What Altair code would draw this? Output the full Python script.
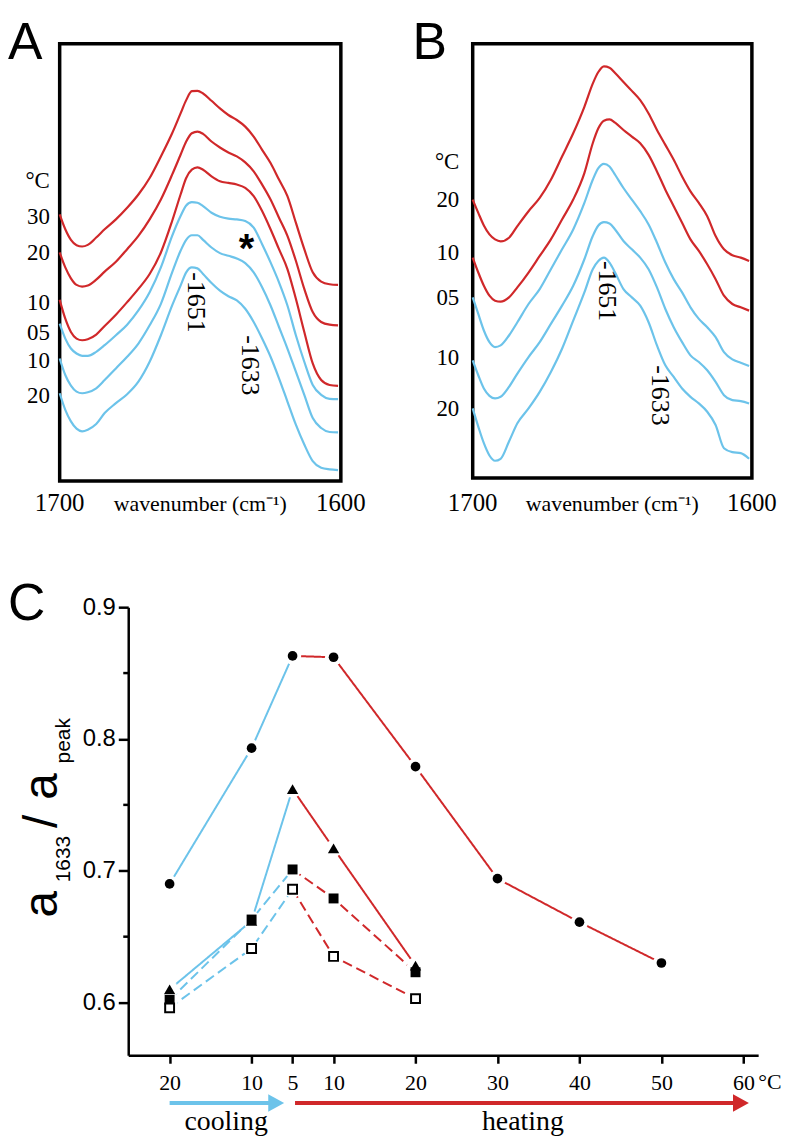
import altair as alt
import pandas as pd

RED = "#D0282A"
BLUE = "#6CC3EA"
SERIF = "Liberation Serif"
SANS = "Liberation Sans"
NARROW = "Liberation Sans Narrow, Arial Narrow, Liberation Sans"

# ---------------- spectra (panels A and B) ----------------
wavenumbers = [1700, 1698, 1696, 1694, 1692, 1690, 1687, 1684, 1680, 1676, 1672, 1668,
               1664, 1660, 1657, 1655, 1653, 1651, 1649, 1646, 1643, 1640, 1637, 1634,
               1631, 1628, 1625, 1622, 1619, 1616, 1613, 1610, 1607, 1604, 1601]

A_heat_30 = [80.5, 76, 72.8, 71.2, 70.8, 71.3, 73.5, 76, 79, 82.5, 86.5, 91.5, 98, 105, 111, 115,
             117.7, 117.8, 117, 114.8, 112.5, 110.5, 109, 107, 104, 100, 96, 91, 86, 78, 70, 63,
             60.2, 59.4, 59.2]
A_heat_20 = [69, 64.5, 61.2, 59.2, 58.7, 59, 60.8, 63.2, 66.2, 70, 74, 79, 85, 92.5, 98.5, 102.5,
             105, 105.5, 104.8, 102.5, 100.7, 99.2, 98, 96.2, 93.5, 89.5, 85, 79.5, 74, 66.5, 58,
             51, 48, 47.2, 47]
A_heat_10 = [54.7, 49, 45, 43, 42.5, 42.8, 44.2, 46.8, 50.2, 54, 58, 62.5, 69, 78.5, 86.5, 91.5,
             94, 94.7, 94, 92, 90.5, 90, 89.5, 88.5, 86, 81.5, 76, 70, 64, 55, 45, 35.5, 30.5,
             29, 28.7]
A_cool_05 = [47.5, 43, 40, 38.5, 37.8, 37.8, 39, 41, 44, 47.2, 51.5, 57, 64.5, 74, 80, 83.2,
             84.2, 84, 83, 81, 79.8, 79.2, 79, 78.5, 76.5, 71.5, 66, 60, 53, 44, 36, 29, 26,
             24.8, 24.7]
A_cool_10 = [37, 32, 28.8, 27, 26.5, 26.8, 28, 30.5, 34, 37.5, 41.5, 47, 53.5, 63, 69.5, 72.8,
             74.2, 74.2, 72.8, 70.5, 68.8, 68, 67.2, 65.8, 63, 58.5, 53, 46.5, 40, 33, 26, 19,
             16, 14.8, 14.7]
A_cool_20 = [26.5, 21.5, 18, 15.8, 15, 15.5, 17.2, 20.5, 23.5, 26.2, 30, 36, 44, 53, 59, 63,
             64.5, 64.2, 62.5, 59.8, 57.5, 55.8, 54.5, 52, 48, 43, 37.5, 31, 24, 17, 11, 6, 4,
             3.5, 3.3]

B_heat_20 = [84, 80, 76.2, 73.5, 72, 71.4, 72.5, 76, 80.5, 84.5, 90, 97, 104, 112, 119, 122.5,
             124.2, 123.8, 122.2, 119.5, 116.8, 114, 110, 105, 100.5, 96, 91, 86.5, 83, 79, 73,
             69, 67.2, 66.5, 65.5]
B_heat_10 = [66.5, 62, 58, 55, 53.5, 53.2, 54.5, 57.5, 62, 67, 72, 78, 84, 92, 101, 105.5,
             107.8, 108.2, 107.2, 105, 103, 101, 97.5, 92.5, 87, 82, 77, 72, 68.5, 64.5, 60, 55,
             52.5, 51.5, 50.5]
B_cool_05 = [54.5, 49.5, 44.5, 41, 39.5, 40, 43, 47, 52.5, 57, 63, 69, 75, 83, 90, 93.5, 94.8,
             94, 91.5, 87.5, 84, 80.5, 76.5, 71, 65, 60, 56, 51.5, 48, 45.5, 42.5, 38, 35.8,
             34.8, 33.8]
B_cool_10 = [35.5, 31, 27, 24.8, 24, 24.5, 27.5, 31.5, 36.5, 41, 46.5, 52, 58, 66, 73, 76.2,
             77.2, 76.8, 75, 71.5, 69, 66.5, 63, 57.5, 51, 45.5, 41, 37, 35, 32.5, 29, 25, 23.5,
             23.2, 22.5]
B_cool_20 = [21, 15.5, 10.5, 6.8, 5.2, 5.8, 11, 16.5, 21, 26, 32, 39, 47.5, 56, 63, 65.5, 66.5,
             65, 62, 57, 54.5, 52, 47, 40, 34, 30.5, 27, 24.5, 22.5, 20, 16, 9, 7.8, 7.5, 5.8]

spec_tick_wn = [1700, 1600]
spec_tick_text = ["1700", "1600"]
spec_title = "wavenumber (cm⁻¹)"

A_temp_text = ["°C", "30", "20", "10", "05", "10", "20"]
A_temp_au = [90.5, 79.8, 68.8, 53.8, 44.8, 36.3, 25.8]
B_temp_text = ["°C", "20", "10", "05", "10", "20"]
B_temp_au = [95.2, 84, 68, 54.2, 36.2, 20.8]

A_peak_text = ["-1651", "-1633"]
A_peak_wn = [1651.5, 1632.2]
A_peak_au = [63, 44]
B_peak_text = ["-1651", "-1633"]
B_peak_wn = [1652, 1633]
B_peak_au = [65.5, 34]

A_star_wn = [1633.6]
A_star_au = [66]

# ---------------- panel C ----------------
steps = [0, 1, 1.5, 2, 3, 4, 5, 6]
circle_vals = [0.690, 0.793, 0.863, 0.862, 0.779, 0.694, 0.661, 0.630]
triangle_vals = [0.610, 0.662, 0.762, 0.717, 0.628]
fsquare_vals = [0.602, 0.663, 0.701, 0.679, 0.623]
osquare_vals = [0.596, 0.641, 0.686, 0.635, 0.603]

tick_pos = [0, 1, 1.5, 2, 3, 4, 5, 6, 7]
tick_text = ["20", "10", "5", "10", "20", "30", "40", "50", "60"]
y_ticks = [0.6, 0.7, 0.8, 0.9]
minor_ticks = [0.65, 0.75, 0.85]

arrow_phase = ["cooling", "heating"]
arrow_start = [0, 1.53]
arrow_tip = [1.40, 7.07]
arrow_text_pos = [0.69, 4.31]

# ---------------- layout (pixels, relative to panel A's top-left) ----------------
W, H = 703, 1018
LETTER_Y = 15
PHASE_COLOR = alt.Scale(domain=["cooling", "heating"], range=[BLUE, RED])


def label(text, x, y, size, font=SERIF, angle=0, align="left", baseline="alphabetic",
          weight="normal"):
    return alt.Chart(pd.DataFrame({"t": [text]})).mark_text(
        font=font, fontSize=size, angle=angle, align=align, baseline=baseline,
        fontWeight=weight, color="black"
    ).encode(text="t:N", x=alt.value(x), y=alt.value(y))


def frame(x0, x1, y0, y1):
    return alt.Chart(pd.DataFrame({"f": [0]})).mark_rect(
        filled=False, stroke="black", strokeWidth=3.5
    ).encode(x=alt.value(x0), x2=alt.value(x1), y=alt.value(y0), y2=alt.value(y1))


def spectra(curves, xs, ys, fr, temp_text, temp_au, temp_wn, peak_text, peak_wn, peak_au,
            letter, letter_x, star=None):
    rows = []
    for name, phase, vals in curves:
        for w, v in zip(wavenumbers, vals):
            rows.append({"curve": name, "phase": phase, "wn": w, "au": v})
    df = pd.DataFrame(rows)
    X = alt.X("wn:Q", scale=xs, axis=None)
    Y = alt.Y("au:Q", scale=ys, axis=None)
    lines = alt.Chart(df).mark_line(strokeWidth=2.2, interpolate="monotone").encode(
        x=X, y=Y, color=alt.Color("phase:N", scale=PHASE_COLOR, legend=None),
        detail="curve:N")
    tdf = pd.DataFrame({"t": temp_text, "au": temp_au, "wn": [temp_wn] * len(temp_text)})
    temps = alt.Chart(tdf).mark_text(font=SERIF, fontSize=23, align="right",
                                     baseline="middle", color="black").encode(
        x=X, y=Y, text="t:N")
    pdf = pd.DataFrame({"t": peak_text, "wn": peak_wn, "au": peak_au})
    peaks = alt.Chart(pdf).mark_text(font=SERIF, fontSize=26, angle=90, align="left",
                                     baseline="middle", color="black").encode(
        x=X, y=Y, text="t:N")
    ticks = alt.Chart(pd.DataFrame({"t": spec_tick_text, "wn": spec_tick_wn})).mark_text(
        font=SERIF, fontSize=25, align="center", baseline="alphabetic", color="black").encode(
        x=X, y=alt.value(470), text="t:N")
    title = alt.Chart(pd.DataFrame({"t": [spec_title], "wn": [sum(spec_tick_wn) / 2]})).mark_text(
        font=SERIF, fontSize=22, align="center", baseline="alphabetic", color="black").encode(
        x=X, y=alt.value(470), text="t:N")
    layers = [frame(*fr), lines, temps, peaks, ticks, title]
    if star is not None:
        sdf = pd.DataFrame({"t": ["*"], "wn": star[0], "au": star[1]})
        layers.append(alt.Chart(sdf).mark_text(font=SANS, fontSize=40, fontWeight="bold",
                                               align="center", baseline="alphabetic",
                                               color="black").encode(x=X, y=Y, text="t:N"))
    layers.append(label(letter, letter_x, LETTER_Y, 52, font=SANS))
    return alt.layer(*layers)


xsA = alt.Scale(domain=[1700, 1600], range=[0, 283], nice=False, zero=False)
ysA = alt.Scale(domain=[0, 132], range=[440, 0], nice=False, zero=False)
xsB = alt.Scale(domain=[1700, 1600], range=[415.7, 696.7], nice=False, zero=False)
ysB = alt.Scale(domain=[0, 131], range=[437, 0], nice=False, zero=False)

panel_A = spectra(
    [("A30", "heating", A_heat_30), ("A20", "heating", A_heat_20), ("A10", "heating", A_heat_10),
     ("A05", "cooling", A_cool_05), ("A10c", "cooling", A_cool_10), ("A20c", "cooling", A_cool_20)],
    xsA, ysA, (0, 283, 0, 440), A_temp_text, A_temp_au, 1703.5,
    A_peak_text, A_peak_wn, A_peak_au, "A", -52, star=(A_star_wn, A_star_au))

panel_B = spectra(
    [("B20", "heating", B_heat_20), ("B10", "heating", B_heat_10),
     ("B05", "cooling", B_cool_05), ("B10c", "cooling", B_cool_10), ("B20c", "cooling", B_cool_20)],
    xsB, ysB, (415.7, 696.7, 0, 437), B_temp_text, B_temp_au, 1704.8,
    B_peak_text, B_peak_wn, B_peak_au, "B", 355)

# ---------------- panel C construction ----------------
series = [("circle", circle_vals, "solid"), ("triangle", triangle_vals, "solid"),
          ("fsquare", fsquare_vals, "dashed"), ("osquare", osquare_vals, "dashed")]
lrows, mrows = [], []
for name, vals, style in series:
    for s, v in zip(steps, vals):
        mrows.append({"series": name, "x": s, "y": v})
        if s <= 1.5:
            lrows.append({"seg": name + "-c", "phase": "cooling", "style": style, "x": s, "y": v})
        if s >= 1.5:
            lrows.append({"seg": name + "-h", "phase": "heating", "style": style, "x": s, "y": v})
ldf = pd.DataFrame(lrows)
mdf = pd.DataFrame(mrows)

C_LEFT, C_TOP = 69, 567
xsC = alt.Scale(domain=[-0.505, 7.18], range=[C_LEFT, W], nice=False, zero=False)
ysC = alt.Scale(domain=[0.56, 0.9], range=[H, C_TOP], nice=False, zero=False)
expr = "".join(f"datum.value == {p} ? '{t}' : " for p, t in zip(tick_pos, tick_text)) + "''"
x_axis_C = alt.Axis(orient="bottom", values=tick_pos, labelExpr=expr, tickSize=8, tickWidth=2.5,
                    tickColor="black", domainWidth=2.5, domainColor="black", grid=False,
                    labelFont=SERIF, labelFontSize=22, labelColor="black", labelPadding=26,
                    labelBaseline="alphabetic", labelFlush=False, labelAngle=0, title=None)
y_axis_C = alt.Axis(orient="left", offset=-C_LEFT, values=y_ticks, format=".1f", tickSize=10,
                    tickWidth=2.5, tickColor="black", domainWidth=2.5, domainColor="black",
                    grid=False, labelFont=NARROW, labelFontSize=24, labelColor="black",
                    labelPadding=3, title=None)
XC = alt.X("x:Q", scale=xsC, axis=x_axis_C)
YC = alt.Y("y:Q", scale=ysC, axis=y_axis_C)

c_lines = alt.Chart(ldf).mark_line(strokeWidth=2).encode(
    x=XC, y=YC,
    color=alt.Color("phase:N", scale=PHASE_COLOR, legend=None),
    strokeDash=alt.StrokeDash("style:N", scale=alt.Scale(domain=["solid", "dashed"],
                                                         range=[[1, 0], [10, 5]]), legend=None),
    detail="seg:N")
halo = alt.Chart(mdf).mark_point(shape="circle", filled=True, color="white", opacity=1,
                                 size=300).encode(x=XC, y=YC)


def markers(name, shape, size, fill, stroke=None, sw=0):
    kw = dict(shape=shape, filled=True, fill=fill, opacity=1, size=size)
    if stroke:
        kw.update(stroke=stroke, strokeWidth=sw)
    return alt.Chart(mdf[mdf.series == name]).mark_point(**kw).encode(x=XC, y=YC)


tri_m = markers("triangle", "triangle-up", 130, "black")
fsq_m = markers("fsquare", "square", 100, "black")
osq_m = markers("osquare", "square", 80, "white", "black", 2)
cir_m = markers("circle", "circle", 95, "black")

minor = alt.Chart(pd.DataFrame({"y": minor_ticks})).mark_rule(
    color="black", strokeWidth=2.5).encode(
    y=alt.Y("y:Q", scale=ysC, axis=y_axis_C), x=alt.value(C_LEFT - 5), x2=alt.value(C_LEFT))

adf = pd.DataFrame({"phase": arrow_phase, "x0": arrow_start, "x1": arrow_tip,
                    "head": [t - 0.1 for t in arrow_tip]})
arrow_color = alt.Color("phase:N", scale=PHASE_COLOR, legend=None)
ARROW_Y = 1066
shafts = alt.Chart(adf).mark_rule(strokeWidth=4).encode(
    x=alt.X("x0:Q", scale=xsC, axis=x_axis_C), x2="head:Q", y=alt.value(ARROW_Y),
    color=arrow_color)
heads = alt.Chart(adf).mark_point(shape="M -1 -1.1 L 1 0 L -1 1.1 Z", filled=True,
                                  opacity=1, size=256).encode(
    x=alt.X("head:Q", scale=xsC, axis=x_axis_C), y=alt.value(ARROW_Y), color=arrow_color)
atext = alt.Chart(pd.DataFrame({"t": arrow_phase, "x": arrow_text_pos})).mark_text(
    font=SERIF, fontSize=28, align="center", baseline="alphabetic", color="black").encode(
    x=alt.X("x:Q", scale=xsC, axis=x_axis_C), y=alt.value(1093), text="t:N")
degC = alt.Chart(pd.DataFrame({"t": ["°C"], "x": [7]})).mark_text(
    font=SERIF, fontSize=22, align="left", baseline="alphabetic", dx=15,
    color="black").encode(x=alt.X("x:Q", scale=xsC, axis=x_axis_C), y=alt.value(H + 34),
                          text="t:N")

# y-axis title a1633/apeak, pieces centred along the rotated baseline
ytitle = [
    label("a", -3, 866, 48, font=SANS, angle=270, align="center"),
    label("1633", 10, 820.5, 21, font=SANS, angle=270, align="center"),
    label("/", -3, 782.5, 48, font=SANS, angle=270, align="center"),
    label("a", -3, 747.5, 48, font=SANS, angle=270, align="center"),
    label("peak", 10, 701.5, 21, font=SANS, angle=270, align="center"),
]

panel_C = alt.layer(
    c_lines, halo, tri_m, fsq_m, osq_m, cir_m, minor, shafts, heads, atext, degC,
    *ytitle, label("C", -52, 580, 52, font=SANS)
)

chart = alt.layer(panel_A, panel_B, panel_C).resolve_scale(
    x="independent", y="independent"
).properties(
    width=W, height=H,
    padding={"left": 0, "top": 5.4, "right": 0, "bottom": 0}
).configure_view(stroke="transparent")

chart.save("out.html", embed_options={"renderer": "svg", "actions": False})
